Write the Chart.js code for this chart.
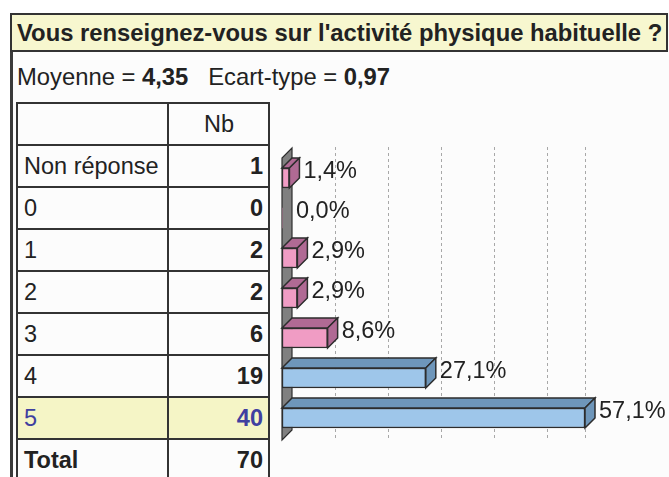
<!DOCTYPE html>
<html>
<head>
<meta charset="utf-8">
<script src="https://cdn.jsdelivr.net/npm/chart.js@4.4.0/dist/chart.umd.min.js"></script>
<style>
    body { margin: 0; width: 669px; height: 477px; overflow: hidden; position: relative; background: #fff; font-family: Arial, "Liberation Sans", sans-serif; color: #222; }
    #content { position: absolute; left: 10px; top: 13px; width: 659px; height: 464px; background: #fcfcfc; }
    #frame-left { position: absolute; left: 10px; top: 13px; width: 3px; height: 464px; background: #3a3a3a; }
    #title { position: absolute; left: 10px; top: 13px; width: 649px; height: 35px; background: #f7f7cf; border: 2px solid #333; font-weight: bold; font-size: 23.8px; line-height: 36px; padding-left: 5px; box-sizing: content-box; white-space: nowrap; }
    #stats { position: absolute; left: 17px; top: 62px; font-size: 23.8px; line-height: 30px; white-space: nowrap; }
    #stats b { font-weight: bold; }
    #counts { position: absolute; left: 16px; top: 102px; border-collapse: collapse; font-size: 23.5px; }
    #counts td { border: 2px solid #333; height: 42px; padding: 0 5px 0 6px; box-sizing: border-box; background: #fcfcfc; }
    #counts td.lab { width: 151px; text-align: left; }
    #counts td.num { width: 101px; text-align: right; font-weight: bold; }
    #counts tr.head td.num { text-align: center; font-weight: normal; }
    #counts tr.hl td { background: #f5f5c6; color: #4040a0; }
    #counts tr.total td { font-weight: bold; }
    #chart-box { position: absolute; left: 270px; top: 100px; width: 399px; height: 377px; }
</style>
</head>
<body>
<div id="content"></div>
<div id="frame-left"></div>
<div id="title">Vous renseignez-vous sur l'activité physique habituelle ?</div>
<div id="stats">Moyenne = <b>4,35</b>&nbsp;&nbsp;&nbsp;Ecart-type = <b>0,97</b></div>
<table id="counts"><tbody></tbody></table>
<div id="chart-box"><canvas id="chart" width="399" height="377"></canvas></div>
<script>
// Data
const categories = ['Non réponse', '0', '1', '2', '3', '4', '5'];
const counts = [1, 0, 2, 2, 6, 19, 40];
const total = 70;
const percents = [1.4, 0.0, 2.9, 2.9, 8.6, 27.1, 57.1];
const gridValues = [10, 20, 30, 40, 50, 57.1];
const highlightIndex = 6;

// Colours
const PINK = '#f09cc4';
const PINK_DARK = '#b06a94';
const BLUE = '#9ec6ea';
const BLUE_DARK = '#6e96ba';
const OUTLINE = '#2d2d2d';
const DEPTH = 10;

function formatPercent(value) {
    return value.toFixed(1).replace('.', ',') + '%';
}

function buildTable() {
    const tbody = document.querySelector('#counts tbody');
    let row = tbody.insertRow();
    row.className = 'head';
    let cell = row.insertCell();
    cell.className = 'lab';
    cell = row.insertCell();
    cell.className = 'num';
    cell.textContent = 'Nb';

    categories.forEach((cat, i) => {
        row = tbody.insertRow();
        if (i === highlightIndex) row.className = 'hl';
        cell = row.insertCell();
        cell.className = 'lab';
        cell.textContent = cat;
        cell = row.insertCell();
        cell.className = 'num';
        cell.textContent = counts[i];
    });

    row = tbody.insertRow();
    row.className = 'total';
    cell = row.insertCell();
    cell.className = 'lab';
    cell.textContent = 'Total';
    cell = row.insertCell();
    cell.className = 'num';
    cell.textContent = total;
}

// Back wall and dashed grid, drawn behind the bars
const wallPlugin = {
    id: 'wall',
    beforeDatasetsDraw(chart) {
        const ctx = chart.ctx;
        const area = chart.chartArea;
        const xScale = chart.scales.x;
        ctx.save();
        ctx.strokeStyle = '#a8a8a8';
        ctx.lineWidth = 1;
        ctx.setLineDash([3, 3]);
        gridValues.forEach(v => {
            const x = Math.round(xScale.getPixelForValue(v)) + 0.5;
            ctx.beginPath();
            ctx.moveTo(x, area.top - DEPTH - 1);
            ctx.lineTo(x, area.bottom + 2);
            ctx.stroke();
        });
        ctx.setLineDash([]);

        const x0 = xScale.getPixelForValue(0);
        ctx.beginPath();
        ctx.moveTo(x0, area.bottom + 2);
        ctx.lineTo(x0, area.top);
        ctx.lineTo(x0 + DEPTH, area.top - DEPTH);
        ctx.lineTo(x0 + DEPTH, area.bottom + 2 - DEPTH);
        ctx.closePath();
        ctx.fillStyle = '#808080';
        ctx.fill();
        ctx.strokeStyle = OUTLINE;
        ctx.lineWidth = 1.2;
        ctx.stroke();
        ctx.restore();
    }
};

// Top and side faces plus value labels
const depthPlugin = {
    id: 'depth',
    afterDatasetsDraw(chart) {
        const ctx = chart.ctx;
        const meta = chart.getDatasetMeta(0);
        ctx.save();
        meta.data.forEach((bar, i) => {
            const value = percents[i];
            const props = bar.getProps(['x', 'y', 'base', 'height'], true);
            const left = props.base;
            const right = props.x;
            const top = props.y - props.height / 2;
            const bottom = props.y + props.height / 2;
            const dark = i >= 5 ? BLUE_DARK : PINK_DARK;

            if (value > 0) {
                ctx.lineWidth = 1.5;
                ctx.strokeStyle = OUTLINE;
                ctx.fillStyle = dark;
                // top face
                ctx.beginPath();
                ctx.moveTo(left, top);
                ctx.lineTo(left + DEPTH, top - DEPTH);
                ctx.lineTo(right + DEPTH, top - DEPTH);
                ctx.lineTo(right, top);
                ctx.closePath();
                ctx.fill();
                ctx.stroke();
                // side face
                ctx.beginPath();
                ctx.moveTo(right, top);
                ctx.lineTo(right + DEPTH, top - DEPTH);
                ctx.lineTo(right + DEPTH, bottom - DEPTH);
                ctx.lineTo(right, bottom);
                ctx.closePath();
                ctx.fill();
                ctx.stroke();
            }

            ctx.fillStyle = '#222';
            ctx.font = '23.5px Arial, "Liberation Sans", sans-serif';
            ctx.textAlign = 'left';
            ctx.textBaseline = 'middle';
            ctx.fillText(formatPercent(value), right + DEPTH + 4, props.y - 6);
        });
        ctx.restore();
    }
};

function drawChart() {
    const ctx = document.getElementById('chart').getContext('2d');
    new Chart(ctx, {
        type: 'bar',
        data: {
            labels: categories,
            datasets: [{
                data: percents,
                backgroundColor: percents.map((v, i) => i >= 5 ? BLUE : PINK),
                borderColor: OUTLINE,
                borderWidth: percents.map(v => v > 0 ? 1.5 : 0),
                borderSkipped: false,
                barThickness: 20
            }]
        },
        options: {
            indexAxis: 'y',
            responsive: false,
            animation: false,
            events: [],
            layout: { padding: { left: 12, right: 84, top: 58, bottom: 39 } },
            plugins: {
                legend: { display: false },
                tooltip: { enabled: false }
            },
            scales: {
                x: { display: false, min: 0, max: 57.1 },
                y: { display: false, offset: true }
            }
        },
        plugins: [wallPlugin, depthPlugin]
    });
}

buildTable();
drawChart();
</script>
</body>
</html>
